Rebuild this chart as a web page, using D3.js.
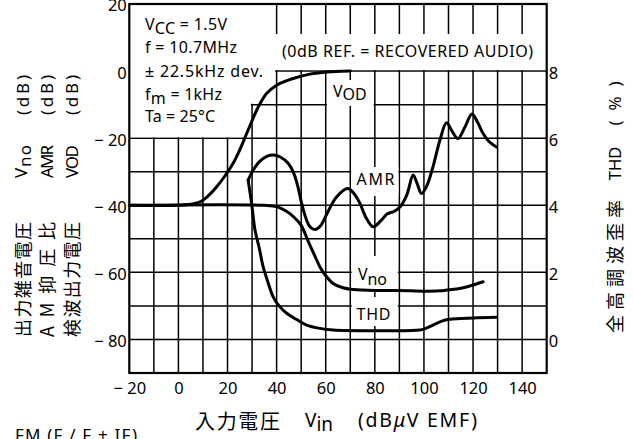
<!DOCTYPE html>
<html><head><meta charset="utf-8">
<script src="https://cdn.jsdelivr.net/npm/d3@7"></script>
<style>
body{margin:0;background:#fff;}
svg text{font-family:"Noto Sans","Noto Sans CJK JP",sans-serif;fill:#000;}
svg text.jp{font-family:"Noto Sans CJK JP","Noto Sans",sans-serif;}
</style></head><body>
<svg id="c" width="634" height="439"></svg>
<script>
// ---- data ----
const xTicks = [-20, 0, 20, 40, 60, 80, 100, 120, 140];
const yTicks = [-80, -60, -40, -20, 0, 20];
const thdTicks = [0, 2, 4, 6, 8];
const vodData = [[-20,-40],[0,-40],[4,-39.8],[8.8,-39],[12,-37.3],[15.6,-34.5],[19,-31.2],[22.3,-27.5],[25,-23.5],[27.8,-18.6],[30,-14.8],[31.9,-11.6],[33.8,-9],[35.9,-6.7],[40,-4.2],[46.7,-2.2],[53.5,-0.9],[57.6,-0.5],[64,-0.15],[70,0]];
const amrData = [[28.4,-32.5],[30.5,-29.5],[33,-27],[36,-25.4],[38.6,-25],[41.5,-25.6],[44.7,-27.5],[47,-30.5],[48.5,-34],[50.2,-39.4],[52,-44],[53.5,-46.3],[55.6,-47.2],[58,-46],[60.5,-42.5],[64.4,-37.5],[69,-35],[71.5,-36.5],[73.9,-39.4],[76.5,-43.8],[79.3,-46.4],[82.5,-44.6],[85,-42.6],[88,-41.8],[90.5,-40.3],[93,-37],[95.6,-31],[97.2,-33.5],[99,-36.5],[101,-34.5],[103.7,-28.5],[106.5,-20.6],[109.2,-15.4],[111.5,-18],[113.9,-20.1],[116.5,-17],[119.6,-12.8],[122,-15.5],[124.1,-18.6],[126.5,-21],[129.5,-22.6]];
const vnoData = [[-20,-40],[35,-40],[40,-40.4],[44,-41.8],[47,-43.5],[50,-46],[53,-51],[55.5,-55],[57.6,-58.3],[60,-61],[63,-63.3],[67,-64.6],[71.2,-65.1],[80,-65.4],[90,-65.4],[100,-65.6],[106.5,-65.5],[110,-65.2],[114.6,-64.8],[119,-64],[124.1,-62.8]];
const thdData = [[28.4,-32.5],[29.8,-39.4],[31.2,-47.4],[33,-53],[34.5,-58.3],[36.5,-63],[38.6,-67.3],[41,-70],[44.1,-72.2],[48,-74],[52.2,-75.7],[57.6,-76.7],[63,-77.2],[80,-77.4],[98.3,-77.2],[101,-76.6],[103.7,-75.7],[107,-74.6],[110.5,-74],[120,-73.6],[129.5,-73.4]];

// ---- scales ----
const x = d3.scaleLinear().domain([-20, 150]).range([129.3, 546.7]);
const y = d3.scaleLinear().domain([-90, 20]).range([373, 4]);
const yR = d3.scaleLinear().domain([-1, 10]).range([373, 4]);
const svg = d3.select("#c");

// ---- grid ----
const grid = svg.append("g").attr("stroke", "#000").attr("stroke-width", 1.5);
d3.range(-10, 150, 10).forEach(v => grid.append("line")
  .attr("x1", x(v)).attr("x2", x(v)).attr("y1", y(20)).attr("y2", y(-90)));
d3.range(-80, 20, 10).forEach(v => grid.append("line")
  .attr("x1", x(-20)).attr("x2", x(150)).attr("y1", y(v)).attr("y2", y(v)));

// ---- white masks ----
const m = svg.append("g").attr("fill", "#fff");
m.append("path").attr("d", d3.line()([
  [x(-20), y(20)], [x(40) - 1.5, y(20)], [x(40) - 1.5, y(-10) - 1], [x(30) - 1.2, y(-10) - 1],
  [x(30) - 1.2, y(-20) - 1], [x(-20), y(-20) - 1]]) + "Z");
m.append("rect").attr("x", x(40) - 4).attr("y", 34).attr("width", x(150) - x(40) + 4).attr("height", y(0) - 34 - 1);
m.append("rect").attr("x", x(60) + 1.2).attr("y", 80).attr("width", x(80) - x(60) - 2.4).attr("height", 26);
m.append("rect").attr("x", x(70) + 1).attr("y", 167).attr("width", x(90) - x(70) - 2).attr("height", 29);
m.append("rect").attr("x", x(70) + 1.5).attr("y", 256).attr("width", x(90) - x(70) - 3).attr("height", 36);
m.append("rect").attr("x", x(70) + 1.5).attr("y", 297).attr("width", x(90) - x(70) - 3).attr("height", 29);

// ---- frame ----
svg.append("rect").attr("x", x(-20)).attr("y", y(20)).attr("width", x(150) - x(-20)).attr("height", y(-90) - y(20))
  .attr("fill", "none").attr("stroke", "#000").attr("stroke-width", 2.2);

// ---- curves ----
const line = d3.line().x(d => x(d[0])).y(d => y(d[1])).curve(d3.curveCatmullRom.alpha(0.5));
[vodData, amrData, vnoData, thdData].forEach(s => svg.append("path").attr("d", line(s))
  .attr("fill", "none").attr("stroke", "#000").attr("stroke-width", 3).attr("stroke-linejoin", "round").attr("stroke-linecap", "round"));

// ---- axes ----
const fmt = d => d < 0 ? "\u2212 " + Math.abs(d) : String(d);
const axL = svg.append("g").attr("transform", `translate(${x(-20)},0)`)
  .call(d3.axisLeft(y).tickValues(yTicks).tickSize(0).tickPadding(2.5).tickFormat(fmt));
const axB = svg.append("g").attr("transform", `translate(0,${y(-90)})`)
  .call(d3.axisBottom(x).tickValues(xTicks).tickSize(0).tickPadding(9).tickFormat(fmt));
const axR = svg.append("g").attr("transform", `translate(${x(150)},0)`)
  .call(d3.axisRight(yR).tickValues(thdTicks).tickSize(0).tickPadding(2).tickFormat(d => String(d)));
[axL, axB, axR].forEach(a => {
  a.select(".domain").remove();
  a.selectAll("text").attr("font-size", 16.5).attr("font-family", null);
});
axL.selectAll("text").attr("dy", "0.42em");
axR.selectAll("text").attr("dy", "0.42em");

// ---- helper for text ----
function txt(px, py, parts, size, opts = {}) {
  const t = svg.append("text").attr("x", px).attr("y", py).attr("font-size", size);
  if (opts.cls) t.attr("class", opts.cls);
  if (opts.len) t.attr("textLength", opts.len).attr("lengthAdjust", "spacing");
  if (opts.anchor) t.attr("text-anchor", opts.anchor);
  if (opts.rot) t.attr("transform", `rotate(-90,${px},${py})`).attr("dominant-baseline", "central");
  parts.forEach(p => {
    const s = t.append("tspan").text(p[0]);
    if (p[1]) s.attr("dy", p[1]);
    if (p[2]) s.attr("font-style", p[2]);
  });
  return t;
}

// condition box
txt(145, 30, [["V"], ["CC", 4], [" = 1.5V", -4]], 16, {len: 82});
txt(145, 53, [["f = 10.7MHz"]], 16, {len: 92});
txt(145, 77, [["\u00B1 22.5kHz  dev."]], 16, {len: 118});
txt(145, 100, [["f"], ["m", 4], [" = 1kHz", -4]], 16, {len: 77});
txt(145, 122, [["Ta = 25\u00B0C"]], 16, {len: 70});
txt(282, 57, [["(0dB  REF. = RECOVERED  AUDIO)"]], 16, {len: 251});

// curve labels
txt(333, 97, [["V"], ["OD", 3]], 16);
txt(356.5, 185, [["AMR"]], 16, {len: 38});
txt(358, 280, [["V"], ["no", 5]], 16);
txt(356.5, 320, [["THD"]], 16, {len: 34});

// left titles (rotated)
const cols = [21.7, 46, 70.5];
txt(cols[0], 279.5, [["出力雑音電圧"]], 18, {rot: 1, anchor: "middle", len: 115, cls: "jp"});
txt(cols[1], 279.5, [["AM抑圧比"]], 18, {rot: 1, anchor: "middle", len: 115, cls: "jp"});
txt(cols[2], 279.5, [["検波出力電圧"]], 18, {rot: 1, anchor: "middle", len: 115, cls: "jp"});
txt(cols[0] - 2, 161.5, [["V"], ["no", 4]], 17, {rot: 1, anchor: "middle", len: 33});
txt(cols[1], 161.5, [["AMR"]], 17, {rot: 1, anchor: "middle", len: 33});
txt(cols[2], 161.5, [["VOD"]], 17, {rot: 1, anchor: "middle", len: 33});
cols.forEach(c => txt(c, 95, [["(dB)"]], 17, {rot: 1, anchor: "middle", len: 40}));

// right title
txt(614, 266.5, [["全高調波歪率"]], 18, {rot: 1, anchor: "middle", len: 133, cls: "jp"});
txt(614, 163.5, [["THD"]], 17, {rot: 1, anchor: "middle", len: 34});
txt(614, 103.5, [["(%)"]], 17, {rot: 1, anchor: "middle", len: 44});

// bottom title
txt(195, 429, [["入力電圧"]], 20, {len: 85, cls: "jp"});
txt(305, 427, [["V"], ["in", 4]], 19);
txt(358, 427, [["(dB"], ["\u03BC", 0, "italic"], ["V EMF)"]], 19.5, {len: 119});
txt(15, 441, [["FM (F / F + IF)"]], 17, {len: 122});
</script>
</body></html>
